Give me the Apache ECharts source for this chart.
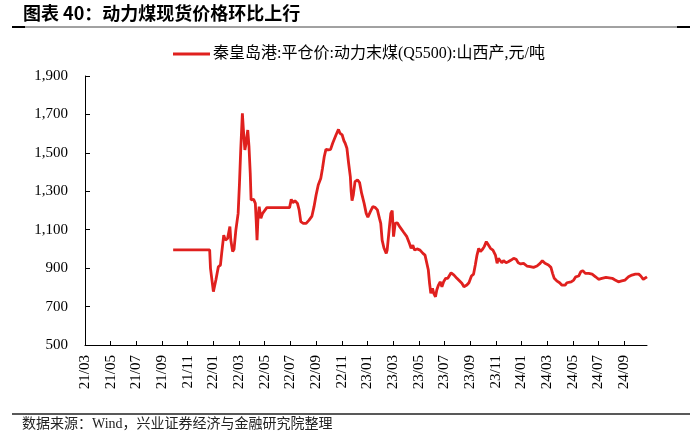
<!DOCTYPE html>
<html><head><meta charset="utf-8">
<script src="https://cdn.jsdelivr.net/npm/echarts@6/dist/echarts.min.js"></script>
<style>html,body{margin:0;padding:0;background:#fff}#c{width:700px;height:442px}</style>
</head><body><div id="c"></div>
<script>
const chartTitle = '图表 40：动力煤现货价格环比上行';
const sourceText = '数据来源：Wind，兴业证券经济与金融研究院整理';
const seriesName = '秦皇岛港:平仓价:动力末煤(Q5500):山西产,元/吨';
const xTickLabels = ['21/03','21/05','21/07','21/09','21/11','22/01','22/03','22/05','22/07','22/09','22/11','23/01','23/03','23/05','23/07','23/09','23/11','24/01','24/03','24/05','24/07','24/09'];
const yTicks = [500,700,900,1100,1300,1500,1700,1900];
const dates = ['2021-09-27','2021-12-23','2021-12-25','2022-01-01','2022-01-07','2022-01-13','2022-01-18','2022-01-21','2022-01-26','2022-01-30','2022-02-04','2022-02-09','2022-02-11','2022-02-15','2022-02-18','2022-02-22','2022-02-27','2022-03-02','2022-03-05','2022-03-09','2022-03-11','2022-03-15','2022-03-18','2022-03-22','2022-03-25','2022-03-28','2022-03-30','2022-04-05','2022-04-09','2022-04-11','2022-04-13','2022-04-15','2022-04-18','2022-04-22','2022-04-26','2022-04-30','2022-05-06','2022-06-29','2022-07-03','2022-07-07','2022-07-12','2022-07-18','2022-07-22','2022-07-26','2022-08-01','2022-08-08','2022-08-15','2022-08-22','2022-08-27','2022-09-01','2022-09-06','2022-09-12','2022-09-16','2022-09-20','2022-09-24','2022-09-30','2022-10-05','2022-10-10','2022-10-14','2022-10-18','2022-10-24','2022-10-28','2022-11-02','2022-11-06','2022-11-09','2022-11-13','2022-11-17','2022-11-21','2022-11-23','2022-11-25','2022-11-28','2022-12-02','2022-12-08','2022-12-13','2022-12-18','2022-12-24','2022-12-29','2023-01-02','2023-01-08','2023-01-14','2023-01-19','2023-01-25','2023-01-30','2023-02-02','2023-02-05','2023-02-09','2023-02-14','2023-02-16','2023-02-21','2023-02-24','2023-02-27','2023-03-02','2023-03-06','2023-03-11','2023-03-18','2023-03-26','2023-04-03','2023-04-09','2023-04-13','2023-04-17','2023-04-21','2023-04-27','2023-05-04','2023-05-11','2023-05-16','2023-05-20','2023-05-24','2023-05-27','2023-05-30','2023-06-03','2023-06-06','2023-06-10','2023-06-13','2023-06-17','2023-06-21','2023-06-25','2023-06-29','2023-07-04','2023-07-09','2023-07-13','2023-07-17','2023-07-21','2023-07-24','2023-07-31','2023-08-06','2023-08-12','2023-08-17','2023-08-24','2023-08-29','2023-09-04','2023-09-09','2023-09-13','2023-09-17','2023-09-21','2023-09-25','2023-09-30','2023-10-04','2023-10-09','2023-10-13','2023-10-19','2023-10-25','2023-10-31','2023-11-04','2023-11-07','2023-11-11','2023-11-15','2023-11-19','2023-11-25','2023-11-30','2023-12-07','2023-12-13','2023-12-19','2023-12-24','2023-12-30','2024-01-06','2024-01-14','2024-01-22','2024-01-30','2024-02-07','2024-02-14','2024-02-19','2024-02-25','2024-03-04','2024-03-10','2024-03-14','2024-03-18','2024-03-24','2024-03-31','2024-04-05','2024-04-09','2024-04-13','2024-04-17','2024-04-21','2024-04-27','2024-05-03','2024-05-08','2024-05-15','2024-05-20','2024-05-25','2024-05-31','2024-06-08','2024-06-16','2024-06-24','2024-07-01','2024-07-09','2024-07-19','2024-08-03','2024-08-10','2024-08-18','2024-08-26','2024-09-03','2024-09-11','2024-09-19','2024-09-27','2024-10-05','2024-10-10','2024-10-16','2024-10-20','2024-10-25'];
const prices = [995,995,899,778,838,907,916,977,1072,1046,1055,1116,1046,986,998,1098,1185,1341,1515,1706,1636,1515,1550,1619,1532,1394,1255,1258,1237,1150,1046,1150,1220,1159,1185,1194,1215,1215,1258,1241,1251,1237,1203,1142,1133,1133,1150,1171,1220,1281,1333,1368,1420,1480,1518,1515,1518,1550,1558,1593,1622,1601,1593,1563,1550,1524,1446,1376,1298,1251,1281,1350,1359,1345,1289,1237,1185,1165,1194,1220,1217,1203,1159,1133,1046,1005,977,994,1116,1185,1199,1064,1133,1136,1112,1088,1064,1029,1003,1020,994,1000,994,977,968,960,890,821,769,795,769,751,786,812,829,803,829,847,847,838,876,881,864,847,834,821,803,812,824,859,869,916,968,1003,986,998,1012,1038,1024,1003,994,968,925,951,946,928,939,928,933,942,951,946,928,922,925,911,908,904,911,925,939,925,916,904,873,847,834,824,812,803,812,824,817,829,838,855,859,881,887,873,873,869,855,842,847,852,847,838,829,834,838,855,864,869,869,859,842,852,855];

function monthPos(s){
  const p = s.split('-').map(Number);
  const dim = new Date(p[0], p[1], 0).getDate();
  return (p[0]-2021)*12 + (p[1]-3) + (p[2]-1)/dim;
}
function labelPos(l){
  const p = l.split('/').map(Number);
  return (p[0]-21)*12 + (p[1]-3);
}
const xTickVals = xTickLabels.map(labelPos);
const labelMap = {};
xTickLabels.forEach((l,i)=>{labelMap[xTickVals[i]] = l;});
const seriesData = dates.map((d,i)=>[monthPos(d), prices[i]]);
const xMax = monthPos(dates[dates.length-1]);

const FONT = '"Liberation Serif", "Noto Sans CJK SC", serif';
const chart = echarts.init(document.getElementById('c'), null, {renderer:'canvas'});
chart.setOption({
  animation: false,
  backgroundColor: '#fff',
  grid: {left: 85, right: 700-647, top: 76, bottom: 97},
  legend: {
    data: [seriesName], left: 168, top: 41, icon: 'rect', itemWidth: 37, itemHeight: 3,
    textStyle: {fontFamily: FONT, fontSize: 16, color: '#000', padding: [0,0,0,-2]}
  },
  xAxis: {
    type: 'value', min: 0, max: xMax,
    axisLine: {show: true, lineStyle: {color: '#000', width: 1}},
    axisTick: {show: true, inside: true, length: 4, customValues: xTickVals, lineStyle: {color: '#000'}},
    axisLabel: {customValues: xTickVals, rotate: 90, margin: 10, fontFamily: FONT, fontSize: 15, color: '#000',
      formatter: v => labelMap[v] || ''},
    splitLine: {show: false}
  },
  yAxis: {
    type: 'value', min: yTicks[0], max: yTicks[yTicks.length-1], interval: 200,
    axisLine: {show: true, lineStyle: {color: '#000', width: 1}},
    axisTick: {show: true, inside: true, length: 5, lineStyle: {color: '#000'}},
    axisLabel: {margin: 17, fontFamily: FONT, fontSize: 15, color: '#000',
      formatter: v => v.toLocaleString('en-US')},
    splitLine: {show: false}
  },
  series: [{
    name: seriesName, type: 'line', data: seriesData, showSymbol: false, symbol: 'none',
    lineStyle: {color: '#E0201E', width: 2.8}, itemStyle: {color: '#E0201E'}
  }],
  graphic: [
    {type: 'text', left: 23, top: 4, style: {text: chartTitle, fontFamily: '"Noto Sans CJK SC", sans-serif', fontWeight: 'bold', fontSize: 18, fill: '#000'}},
    {type: 'line', shape: {x1: 12, y1: 27, x2: 690, y2: 27}, style: {stroke: '#444', lineWidth: 1}},
    {type: 'line', shape: {x1: 12, y1: 27, x2: 25, y2: 27}, style: {stroke: '#000', lineWidth: 2}},
    {type: 'line', shape: {x1: 677, y1: 27, x2: 690, y2: 27}, style: {stroke: '#000', lineWidth: 2}},
    {type: 'line', shape: {x1: 12, y1: 414, x2: 690, y2: 414}, style: {stroke: '#222', lineWidth: 1.5}},
    {type: 'text', left: 22, top: 417, style: {text: sourceText, fontFamily: FONT, fontSize: 14, fill: '#222'}}
  ]
});
</script>
</body></html>
